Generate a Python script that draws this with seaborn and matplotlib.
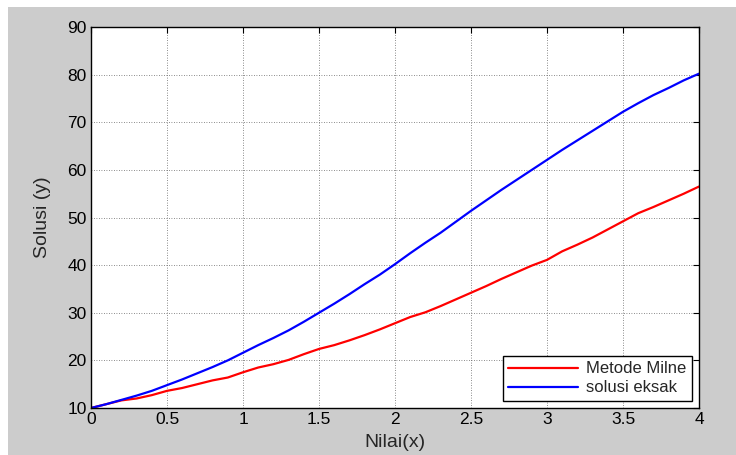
import numpy as np
import pandas as pd
import matplotlib
matplotlib.use("Agg")
import matplotlib.pyplot as plt
from matplotlib.patches import Rectangle
import seaborn as sns

x_vals = [round(0.1 * i, 1) for i in range(41)]
milne = [10.0, 10.8, 11.6, 12.0, 12.7, 13.6, 14.2, 15.0, 15.8, 16.4,
         17.5, 18.5, 19.2, 20.1, 21.3, 22.4, 23.2, 24.2, 25.3, 26.5,
         27.8, 29.1, 30.1, 31.4, 32.8, 34.2, 35.6, 37.1, 38.5, 39.9,
         41.1, 42.9, 44.3, 45.8, 47.5, 49.2, 50.9, 52.2, 53.6, 55.0, 56.5]
eksak = [10.0, 10.8, 11.7, 12.6, 13.6, 14.8, 16.0, 17.3, 18.6, 20.0,
         21.6, 23.2, 24.7, 26.3, 28.1, 30.0, 31.9, 33.9, 36.0, 38.0,
         40.2, 42.5, 44.7, 46.8, 49.1, 51.4, 53.6, 55.8, 57.9, 60.0,
         62.1, 64.2, 66.2, 68.2, 70.2, 72.2, 74.0, 75.7, 77.2, 78.8, 80.2]
series_names = ["Metode Milne", "solusi eksak"]
x_ticks = [0, 0.5, 1, 1.5, 2, 2.5, 3, 3.5, 4]
x_tick_labels = ["0", "0.5", "1", "1.5", "2", "2.5", "3", "3.5", "4"]
y_ticks = [10, 20, 30, 40, 50, 60, 70, 80, 90]

df = pd.DataFrame({
    "x": x_vals * 2,
    "y": milne + eksak,
    "series": [series_names[0]] * len(x_vals) + [series_names[1]] * len(x_vals),
})

sns.set_style("white")
plt.rcParams['font.family'] = ['Liberation Sans', 'DejaVu Sans']

W, H = 736, 455
fig = plt.figure(figsize=(W / 100, H / 100), dpi=100, facecolor="white")
fig.patches.append(Rectangle((8 / W, 0), 1, 1 - 7 / H, transform=fig.transFigure,
                             facecolor="#cccccc", edgecolor="none", zorder=-10))
ax = fig.add_axes([91 / W, (H - 408) / H, 608 / W, 381 / H])
ax.set_facecolor("white")

sns.lineplot(data=df, x="x", y="y", hue="series",
             palette={series_names[0]: "#ff0000", series_names[1]: "#0000ff"},
             linewidth=1.6, ax=ax, legend=True)

ax.set_xlim(0, 4)
ax.set_ylim(10, 90)
ax.set_xticks(x_ticks)
ax.set_xticklabels(x_tick_labels)
ax.set_yticks(y_ticks)
ax.grid(True, color="#555555", linestyle=(0, (1, 2)), linewidth=0.6, alpha=0.9)
ax.tick_params(direction="in", length=4, width=0.8, labelsize=12.5, colors="black",
               top=True, right=True, pad=3)
for s in ax.spines.values():
    s.set_color("black")
    s.set_linewidth(1.0)
    s.set_visible(True)

ax.set_xlabel("Nilai(x)", fontsize=14, labelpad=5)
ax.set_ylabel("Solusi (y)", fontsize=14, labelpad=12)

leg = ax.legend(loc="lower right", fontsize=12, frameon=True, fancybox=False,
                edgecolor="black", framealpha=1, borderaxespad=0.45,
                handlelength=4.2, handletextpad=0.5, labelspacing=0.25, borderpad=0.3)
leg.get_frame().set_linewidth(1.0)

fig.savefig("out.png", dpi=100, facecolor=fig.get_facecolor())
